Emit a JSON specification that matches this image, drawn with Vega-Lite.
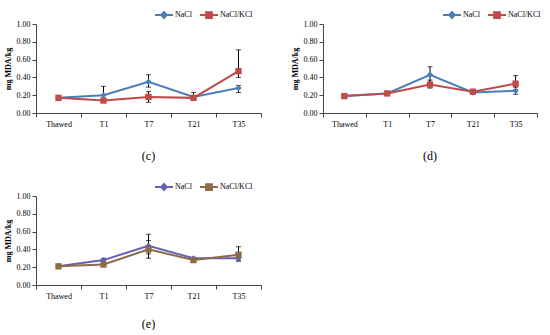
{
  "$schema": "https://vega.github.io/schema/vega-lite/v6.json",
  "background": "white",
  "padding": {"left": 4, "top": 5, "right": 5, "bottom": 0},
  "config": {
    "view": {"stroke": null},
    "font": "Liberation Serif",
    "axis": {"labelFont": "Liberation Serif", "labelFontSize": 8, "labelColor": "#000", "labelOverlap": false, "domainColor": "#444", "tickColor": "#444", "titleFont": "Liberation Serif", "titleFontSize": 8, "titleColor": "#000", "grid": false},
    "axisY": {"labelOverlap": false},
    "axisQuantitative": {"labelOverlap": false},
    "legend": {"labelFont": "Liberation Serif", "labelFontSize": 8, "labelColor": "#000"}
  },
  "datasets": {
    "mda": [
      {"panel": "c", "day": "Thawed", "series": "NaCl", "value": 0.17, "lo": 0.17, "hi": 0.17},
      {"panel": "c", "day": "T1", "series": "NaCl", "value": 0.20, "lo": 0.14, "hi": 0.30},
      {"panel": "c", "day": "T7", "series": "NaCl", "value": 0.35, "lo": 0.29, "hi": 0.43},
      {"panel": "c", "day": "T21", "series": "NaCl", "value": 0.18, "lo": 0.15, "hi": 0.23},
      {"panel": "c", "day": "T35", "series": "NaCl", "value": 0.28, "lo": 0.23, "hi": 0.31},
      {"panel": "c", "day": "Thawed", "series": "NaCl/KCl", "value": 0.17, "lo": 0.16, "hi": 0.18},
      {"panel": "c", "day": "T1", "series": "NaCl/KCl", "value": 0.14, "lo": 0.12, "hi": 0.16},
      {"panel": "c", "day": "T7", "series": "NaCl/KCl", "value": 0.18, "lo": 0.12, "hi": 0.24},
      {"panel": "c", "day": "T21", "series": "NaCl/KCl", "value": 0.17, "lo": 0.15, "hi": 0.19},
      {"panel": "c", "day": "T35", "series": "NaCl/KCl", "value": 0.47, "lo": 0.40, "hi": 0.71},
      {"panel": "d", "day": "Thawed", "series": "NaCl", "value": 0.19, "lo": 0.18, "hi": 0.20},
      {"panel": "d", "day": "T1", "series": "NaCl", "value": 0.22, "lo": 0.21, "hi": 0.23},
      {"panel": "d", "day": "T7", "series": "NaCl", "value": 0.43, "lo": 0.34, "hi": 0.52},
      {"panel": "d", "day": "T21", "series": "NaCl", "value": 0.23, "lo": 0.22, "hi": 0.24},
      {"panel": "d", "day": "T35", "series": "NaCl", "value": 0.25, "lo": 0.21, "hi": 0.29},
      {"panel": "d", "day": "Thawed", "series": "NaCl/KCl", "value": 0.19, "lo": 0.18, "hi": 0.20},
      {"panel": "d", "day": "T1", "series": "NaCl/KCl", "value": 0.22, "lo": 0.21, "hi": 0.23},
      {"panel": "d", "day": "T7", "series": "NaCl/KCl", "value": 0.32, "lo": 0.28, "hi": 0.37},
      {"panel": "d", "day": "T21", "series": "NaCl/KCl", "value": 0.24, "lo": 0.22, "hi": 0.26},
      {"panel": "d", "day": "T35", "series": "NaCl/KCl", "value": 0.33, "lo": 0.26, "hi": 0.42},
      {"panel": "e", "day": "Thawed", "series": "NaCl", "value": 0.21, "lo": 0.20, "hi": 0.22},
      {"panel": "e", "day": "T1", "series": "NaCl", "value": 0.28, "lo": 0.26, "hi": 0.30},
      {"panel": "e", "day": "T7", "series": "NaCl", "value": 0.44, "lo": 0.35, "hi": 0.57},
      {"panel": "e", "day": "T21", "series": "NaCl", "value": 0.30, "lo": 0.29, "hi": 0.31},
      {"panel": "e", "day": "T35", "series": "NaCl", "value": 0.30, "lo": 0.27, "hi": 0.33},
      {"panel": "e", "day": "Thawed", "series": "NaCl/KCl", "value": 0.21, "lo": 0.20, "hi": 0.22},
      {"panel": "e", "day": "T1", "series": "NaCl/KCl", "value": 0.23, "lo": 0.22, "hi": 0.24},
      {"panel": "e", "day": "T7", "series": "NaCl/KCl", "value": 0.40, "lo": 0.30, "hi": 0.50},
      {"panel": "e", "day": "T21", "series": "NaCl/KCl", "value": 0.28, "lo": 0.27, "hi": 0.29},
      {"panel": "e", "day": "T35", "series": "NaCl/KCl", "value": 0.34, "lo": 0.27, "hi": 0.43}
    ]
  },
  "resolve": {"scale": {"color": "independent"}, "legend": {"color": "independent"}},
  "spacing": 15,
  "vconcat": [
    {
      "spacing": 29,
      "resolve": {"scale": {"color": "independent"}, "legend": {"color": "independent"}},
      "hconcat": [
        {
          "width": 225, "height": 89,
          "data": {"name": "mda"},
          "transform": [{"filter": "datum.panel === 'c'"}],
          "title": {"text": "(c)", "orient": "bottom", "font": "Liberation Serif", "fontSize": 12, "fontWeight": "normal", "offset": 23},
          "encoding": {
            "x": {"field": "day", "type": "nominal", "sort": ["Thawed", "T1", "T7", "T21", "T35"], "scale": {"type": "band", "paddingInner": 0, "paddingOuter": 0}, "axis": {"title": null, "labelAngle": 0, "tickBand": "extent", "tickSize": 4, "labelPadding": 3}}
          },
          "layer": [
            {"mark": {"type": "line", "strokeWidth": 2}, "encoding": {"y": {"field": "value", "type": "quantitative", "scale": {"domain": [0, 1]}, "axis": {"values": [0, 0.2, 0.4, 0.6, 0.8, 1], "labelOverlap": false, "format": ".2f", "title": "mg MDA/kg", "titleFontWeight": "bold", "tickSize": 4, "labelPadding": 2, "titlePadding": 4}}, "color": {"field": "series", "type": "nominal", "scale": {"domain": ["NaCl", "NaCl/KCl"], "range": ["#4a7ebb", "#be4b48"]}, "legend": {"title": null, "orient": "none", "direction": "horizontal", "legendX": 118, "legendY": -19, "symbolSize": 324, "columnPadding": 4, "labelOffset": 1, "encode": {"symbols": {"update": {"shape": {"signal": "datum.value === 'NaCl' ? 'M-1,0H1M0,-0.33L0.3,0L0,0.33L-0.3,0Z' : 'M-1,0H1M-0.32,-0.32H0.32V0.32H-0.32Z'"}, "fill": {"signal": "datum.value === 'NaCl' ? '#4a7ebb' : '#be4b48'"}, "stroke": {"signal": "datum.value === 'NaCl' ? '#4a7ebb' : '#be4b48'"}, "strokeWidth": {"value": 2}, "opacity": {"value": 1}}}}}}}},
            {"mark": {"type": "rule", "color": "#000", "strokeWidth": 1}, "encoding": {"y": {"field": "lo", "type": "quantitative", "axis": {"values": [0, 0.2, 0.4, 0.6, 0.8, 1], "labelOverlap": false, "format": ".2f", "title": "mg MDA/kg", "titleFontWeight": "bold", "tickSize": 4, "labelPadding": 2, "titlePadding": 4}}, "y2": {"field": "hi"}}},
            {"mark": {"type": "tick", "color": "#000", "thickness": 1, "size": 5}, "encoding": {"y": {"field": "hi", "type": "quantitative", "axis": {"values": [0, 0.2, 0.4, 0.6, 0.8, 1], "labelOverlap": false, "format": ".2f", "title": "mg MDA/kg", "titleFontWeight": "bold", "tickSize": 4, "labelPadding": 2, "titlePadding": 4}}}},
            {"mark": {"type": "tick", "color": "#000", "thickness": 1, "size": 5}, "encoding": {"y": {"field": "lo", "type": "quantitative", "axis": {"values": [0, 0.2, 0.4, 0.6, 0.8, 1], "labelOverlap": false, "format": ".2f", "title": "mg MDA/kg", "titleFontWeight": "bold", "tickSize": 4, "labelPadding": 2, "titlePadding": 4}}}},
            {"mark": {"type": "point", "filled": true, "opacity": 1, "size": 40}, "encoding": {"y": {"field": "value", "type": "quantitative", "axis": {"values": [0, 0.2, 0.4, 0.6, 0.8, 1], "labelOverlap": false, "format": ".2f", "title": "mg MDA/kg", "titleFontWeight": "bold", "tickSize": 4, "labelPadding": 2, "titlePadding": 4}}, "color": {"field": "series", "type": "nominal"}, "shape": {"field": "series", "type": "nominal", "scale": {"domain": ["NaCl", "NaCl/KCl"], "range": ["diamond", "square"]}, "legend": null}}}
          ]
        },
        {
          "width": 214, "height": 89,
          "data": {"name": "mda"},
          "transform": [{"filter": "datum.panel === 'd'"}],
          "title": {"text": "(d)", "orient": "bottom", "font": "Liberation Serif", "fontSize": 12, "fontWeight": "normal", "offset": 23},
          "encoding": {
            "x": {"field": "day", "type": "nominal", "sort": ["Thawed", "T1", "T7", "T21", "T35"], "scale": {"type": "band", "paddingInner": 0, "paddingOuter": 0}, "axis": {"title": null, "labelAngle": 0, "tickBand": "extent", "tickSize": 4, "labelPadding": 3}}
          },
          "layer": [
            {"mark": {"type": "line", "strokeWidth": 2}, "encoding": {"y": {"field": "value", "type": "quantitative", "scale": {"domain": [0, 1]}, "axis": {"values": [0, 0.2, 0.4, 0.6, 0.8, 1], "labelOverlap": false, "format": ".2f", "title": "mg MDA/kg", "titleFontWeight": "bold", "tickSize": 4, "labelPadding": 2, "titlePadding": 4}}, "color": {"field": "series", "type": "nominal", "scale": {"domain": ["NaCl", "NaCl/KCl"], "range": ["#4a7ebb", "#be4b48"]}, "legend": {"title": null, "orient": "none", "direction": "horizontal", "legendX": 119, "legendY": -19, "symbolSize": 324, "columnPadding": 4, "labelOffset": 1, "encode": {"symbols": {"update": {"shape": {"signal": "datum.value === 'NaCl' ? 'M-1,0H1M0,-0.33L0.3,0L0,0.33L-0.3,0Z' : 'M-1,0H1M-0.32,-0.32H0.32V0.32H-0.32Z'"}, "fill": {"signal": "datum.value === 'NaCl' ? '#4a7ebb' : '#be4b48'"}, "stroke": {"signal": "datum.value === 'NaCl' ? '#4a7ebb' : '#be4b48'"}, "strokeWidth": {"value": 2}, "opacity": {"value": 1}}}}}}}},
            {"mark": {"type": "rule", "color": "#000", "strokeWidth": 1}, "encoding": {"y": {"field": "lo", "type": "quantitative", "axis": {"values": [0, 0.2, 0.4, 0.6, 0.8, 1], "labelOverlap": false, "format": ".2f", "title": "mg MDA/kg", "titleFontWeight": "bold", "tickSize": 4, "labelPadding": 2, "titlePadding": 4}}, "y2": {"field": "hi"}}},
            {"mark": {"type": "tick", "color": "#000", "thickness": 1, "size": 5}, "encoding": {"y": {"field": "hi", "type": "quantitative", "axis": {"values": [0, 0.2, 0.4, 0.6, 0.8, 1], "labelOverlap": false, "format": ".2f", "title": "mg MDA/kg", "titleFontWeight": "bold", "tickSize": 4, "labelPadding": 2, "titlePadding": 4}}}},
            {"mark": {"type": "tick", "color": "#000", "thickness": 1, "size": 5}, "encoding": {"y": {"field": "lo", "type": "quantitative", "axis": {"values": [0, 0.2, 0.4, 0.6, 0.8, 1], "labelOverlap": false, "format": ".2f", "title": "mg MDA/kg", "titleFontWeight": "bold", "tickSize": 4, "labelPadding": 2, "titlePadding": 4}}}},
            {"mark": {"type": "point", "filled": true, "opacity": 1, "size": 40}, "encoding": {"y": {"field": "value", "type": "quantitative", "axis": {"values": [0, 0.2, 0.4, 0.6, 0.8, 1], "labelOverlap": false, "format": ".2f", "title": "mg MDA/kg", "titleFontWeight": "bold", "tickSize": 4, "labelPadding": 2, "titlePadding": 4}}, "color": {"field": "series", "type": "nominal"}, "shape": {"field": "series", "type": "nominal", "scale": {"domain": ["NaCl", "NaCl/KCl"], "range": ["diamond", "square"]}, "legend": null}}}
          ]
        }
      ]
    },
    {
      "width": 225, "height": 89,
      "data": {"name": "mda"},
      "transform": [{"filter": "datum.panel === 'e'"}],
      "title": {"text": "(e)", "orient": "bottom", "font": "Liberation Serif", "fontSize": 12, "fontWeight": "normal", "offset": 19},
      "encoding": {
        "x": {"field": "day", "type": "nominal", "sort": ["Thawed", "T1", "T7", "T21", "T35"], "scale": {"type": "band", "paddingInner": 0, "paddingOuter": 0}, "axis": {"title": null, "labelAngle": 0, "tickBand": "extent", "tickSize": 4, "labelPadding": 3}}
      },
      "layer": [
        {"mark": {"type": "line", "strokeWidth": 2}, "encoding": {"y": {"field": "value", "type": "quantitative", "scale": {"domain": [0, 1]}, "axis": {"values": [0, 0.2, 0.4, 0.6, 0.8, 1], "labelOverlap": false, "format": ".2f", "title": "mg MDA/kg", "titleFontWeight": "bold", "tickSize": 4, "labelPadding": 2, "titlePadding": 4}}, "color": {"field": "series", "type": "nominal", "scale": {"domain": ["NaCl", "NaCl/KCl"], "range": ["#6460b4", "#8b6c47"]}, "legend": {"title": null, "orient": "none", "direction": "horizontal", "legendX": 118, "legendY": -19, "symbolSize": 324, "columnPadding": 4, "labelOffset": 1, "encode": {"symbols": {"update": {"shape": {"signal": "datum.value === 'NaCl' ? 'M-1,0H1M0,-0.33L0.3,0L0,0.33L-0.3,0Z' : 'M-1,0H1M-0.32,-0.32H0.32V0.32H-0.32Z'"}, "fill": {"signal": "datum.value === 'NaCl' ? '#6460b4' : '#8b6c47'"}, "stroke": {"signal": "datum.value === 'NaCl' ? '#6460b4' : '#8b6c47'"}, "strokeWidth": {"value": 2}, "opacity": {"value": 1}}}}}}}},
        {"mark": {"type": "rule", "color": "#000", "strokeWidth": 1}, "encoding": {"y": {"field": "lo", "type": "quantitative", "axis": {"values": [0, 0.2, 0.4, 0.6, 0.8, 1], "labelOverlap": false, "format": ".2f", "title": "mg MDA/kg", "titleFontWeight": "bold", "tickSize": 4, "labelPadding": 2, "titlePadding": 4}}, "y2": {"field": "hi"}}},
        {"mark": {"type": "tick", "color": "#000", "thickness": 1, "size": 5}, "encoding": {"y": {"field": "hi", "type": "quantitative", "axis": {"values": [0, 0.2, 0.4, 0.6, 0.8, 1], "labelOverlap": false, "format": ".2f", "title": "mg MDA/kg", "titleFontWeight": "bold", "tickSize": 4, "labelPadding": 2, "titlePadding": 4}}}},
        {"mark": {"type": "tick", "color": "#000", "thickness": 1, "size": 5}, "encoding": {"y": {"field": "lo", "type": "quantitative", "axis": {"values": [0, 0.2, 0.4, 0.6, 0.8, 1], "labelOverlap": false, "format": ".2f", "title": "mg MDA/kg", "titleFontWeight": "bold", "tickSize": 4, "labelPadding": 2, "titlePadding": 4}}}},
        {"mark": {"type": "point", "filled": true, "opacity": 1, "size": 40}, "encoding": {"y": {"field": "value", "type": "quantitative", "axis": {"values": [0, 0.2, 0.4, 0.6, 0.8, 1], "labelOverlap": false, "format": ".2f", "title": "mg MDA/kg", "titleFontWeight": "bold", "tickSize": 4, "labelPadding": 2, "titlePadding": 4}}, "color": {"field": "series", "type": "nominal"}, "shape": {"field": "series", "type": "nominal", "scale": {"domain": ["NaCl", "NaCl/KCl"], "range": ["diamond", "square"]}, "legend": null}}}
      ]
    }
  ]
}
